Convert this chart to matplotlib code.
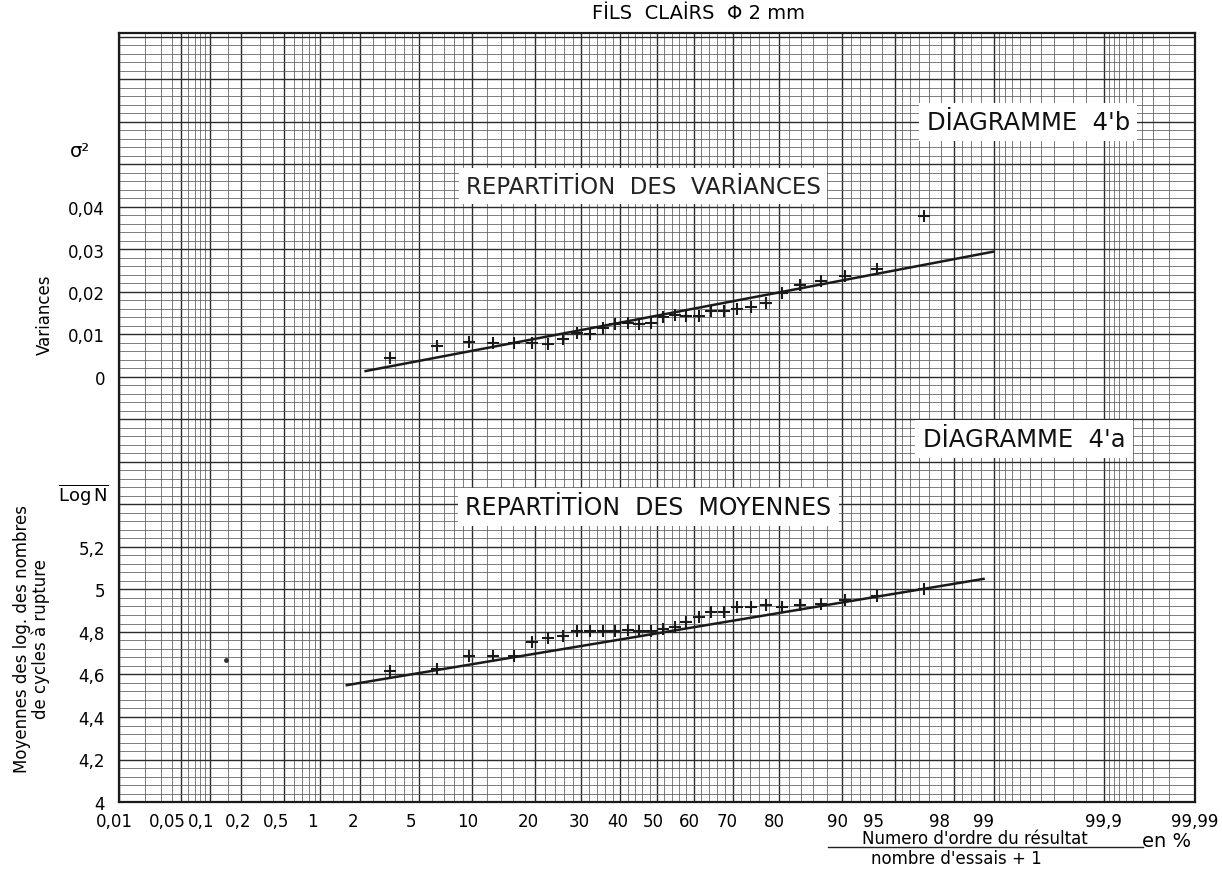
import numpy as np
import matplotlib
matplotlib.use('Agg')
import matplotlib.pyplot as plt
from matplotlib.lines import Line2D
from statistics import NormalDist

# papier gausso-arithmetique : abscisse en % (echelle de probabilite normale)
loi = NormalDist()

rang_pct = [3.23, 6.45, 9.68, 12.90, 16.13, 19.35, 22.58, 25.81, 29.03, 32.26,
            35.48, 38.71, 41.94, 45.16, 48.39, 51.61, 54.84, 58.06, 61.29, 64.52,
            67.74, 70.97, 74.19, 77.42, 80.65, 83.87, 87.10, 90.32, 93.55, 96.77]

variances = [0.0045, 0.0073, 0.0082, 0.0080, 0.0080, 0.0080, 0.0078, 0.0089, 0.0104, 0.0101,
             0.0115, 0.0125, 0.0127, 0.0125, 0.0127, 0.0141, 0.0146, 0.0144, 0.0144, 0.0155,
             0.0155, 0.0160, 0.0165, 0.0174, 0.0198, 0.0216, 0.0226, 0.0238, 0.0254, 0.0379]

moyennes = [4.616, 4.626, 4.687, 4.687, 4.687, 4.753, 4.772, 4.781, 4.805, 4.805,
            4.805, 4.805, 4.809, 4.805, 4.805, 4.814, 4.824, 4.847, 4.871, 4.894,
            4.894, 4.918, 4.918, 4.927, 4.918, 4.927, 4.932, 4.951, 4.969, 5.002]

# droites ajustees
droite_var_x = [2.2, 99.0]
droite_var_y = [0.0014, 0.0295]
droite_moy_x = [1.6, 98.8]
droite_moy_y = [4.55, 5.05]

# point isole (tache) en bas a gauche
tache_x = [0.145]
tache_y = [4.67]

x_ticks = [0.01, 0.05, 0.1, 0.2, 0.5, 1, 2, 5, 10, 20, 30, 40, 50, 60, 70, 80,
           90, 95, 98, 99, 99.9, 99.99]
x_labels = ['0,01', '0,05', '0,1', '0,2', '0,5', '1', '2', '5', '10', '20', '30', '40',
            '50', '60', '70', '80', '90', '95', '98', '99', '99,9', '99,99']
# decalage des etiquettes (en pixels) comme sur le papier imprime
x_decal = [-5, -14, -9, -3, -8, -8, -7, -8, -4, -7, -2, -3, -4, -4, -6, -4,
           -5, -21, -15, -10, -1, 0]

moy_ticks = [4.0, 4.2, 4.4, 4.6, 4.8, 5.0, 5.2]
moy_labels = ['4', '4,2', '4,4', '4,6', '4,8', '5', '5,2']
var_ticks = [0.0, 0.01, 0.02, 0.03, 0.04]
var_labels = ['0', '0,01', '0,02', '0,03', '0,04']


def vers_z(p):
    p = np.clip(np.asarray(p, dtype=float), 1e-7, 100 - 1e-7)
    return np.vectorize(lambda v: loi.inv_cdf(v / 100.0), otypes=[float])(p)


def depuis_z(z):
    z = np.asarray(z, dtype=float)
    return np.vectorize(lambda v: 100.0 * loi.cdf(v), otypes=[float])(z)


plt.rcParams['font.family'] = ['DejaVu Sans']
encre = '#2b2b2b'

fig = plt.figure(figsize=(12.22, 8.70), dpi=100)
ax = fig.add_axes([119 / 1222, 1 - 803 / 870, 1076 / 1222, 769 / 870])
ax.set_xscale('function', functions=(vers_z, depuis_z))
ax.set_xlim(0.01, 99.99)
y_haut = 4 + 0.2 * 769 / 42.5
ax.set_ylim(4, y_haut)

# quadrillage du papier
gauche = [0.02, 0.03, 0.04, 0.06, 0.07, 0.08, 0.09, 0.15, 0.3, 0.4, 0.6, 0.7, 0.8, 0.9,
          1.25, 1.5, 1.75, 2.5, 3, 3.5, 4, 4.5, 6, 7, 8, 9, 12, 14, 16, 18,
          22, 24, 26, 28, 32, 34, 36, 38, 42, 44, 46, 48]
mineurs_x = gauche + [round(100 - g, 3) for g in gauche] + [99.95, 99.8, 99.5]
ax.set_xticks(mineurs_x, minor=True)
ax.set_xticks(x_ticks, labels=[''] * len(x_ticks))
for x, lab, d in zip(x_ticks, x_labels, x_decal):
    ax.annotate(lab, xy=(x, 0), xycoords=('data', 'axes fraction'),
                xytext=(d * 0.72, -7), textcoords='offset points',
                ha='center', va='top', fontsize=12)

grands_y = np.arange(4, y_haut + 1e-6, 0.2)
petits_y = np.arange(4, y_haut + 1e-6, 0.04)
lab_y = []
for v in grands_y:
    lab = ''
    for t, l in zip(moy_ticks, moy_labels):
        if abs(t - v) < 1e-6:
            lab = l
    lab_y.append(lab)
ax.set_yticks(grands_y, labels=lab_y)
ax.set_yticks(petits_y, minor=True)

ax.grid(which='major', color=encre, lw=1.0)
ax.grid(which='minor', color='#5a5a5a', lw=0.55)
ax.set_axisbelow(True)
ax.tick_params(which='both', length=0)
ax.tick_params(axis='y', pad=10, labelsize=12)
for s in ax.spines.values():
    s.set_linewidth(1.6)
    s.set_color('#1a1a1a')

# diagramme 4'a : moyennes
ax.plot(droite_moy_x, droite_moy_y, color='#1a1a1a', lw=1.8, zorder=3)
ax.plot(rang_pct, moyennes, ls='none', marker='+', ms=8, mew=1.5, color='#1a1a1a', zorder=4)
ax.plot(tache_x, tache_y, ls='none', marker='o', ms=2.5, color='#333333', zorder=4)

# diagramme 4'b : variances (meme papier, autre echelle)
ax2 = ax.twinx()
ax2.set_ylim((4 - 6) * 0.05, (y_haut - 6) * 0.05)
ax2.set_yticks(var_ticks, labels=var_labels)
ax2.yaxis.set_ticks_position('left')
ax2.tick_params(length=0, pad=10, labelsize=12)
for s in ax2.spines.values():
    s.set_visible(False)
ax2.plot(droite_var_x, droite_var_y, color='#1a1a1a', lw=1.8, zorder=3)
ax2.plot(rang_pct, variances, ls='none', marker='+', ms=8, mew=1.5, color='#1a1a1a', zorder=4)

boite = dict(boxstyle='square,pad=0.3', fc='white', ec='none')
ax2.text(0.487, 0.801, 'REPARTİTİON  DES  VARİANCES', transform=ax.transAxes,
         ha='center', va='center', fontsize=16.5, color='#222222', bbox=boite, zorder=5)
ax2.text(0.845, 0.884, "DİAGRAMME  4'b", transform=ax.transAxes,
         ha='center', va='center', fontsize=17.5, color='#111111', bbox=boite, zorder=5)
ax2.text(0.841, 0.472, "DİAGRAMME  4'a", transform=ax.transAxes,
         ha='center', va='center', fontsize=17.5, color='#111111', bbox=boite, zorder=5)
ax2.text(0.492, 0.384, 'REPARTİTİON  DES  MOYENNES', transform=ax.transAxes,
         ha='center', va='center', fontsize=17, color='#111111', bbox=boite, zorder=5)

# textes hors cadre
fig.text(0.572, 0.984, 'FİLS  CLAİRS  Φ 2 mm', ha='center', va='center', fontsize=14)
fig.text(0.0655, 0.826, 'σ²', ha='center', va='center', fontsize=14)
fig.text(0.037, 0.638, 'Variances', rotation=90, ha='center', va='center', fontsize=12)
fig.text(0.068, 0.431, r'$\overline{\mathrm{Log\,N}}$', ha='center', va='center', fontsize=13)
fig.text(0.026, 0.265, 'Moyennes des log. des nombres\nde cycles à rupture', rotation=90,
         ha='center', va='center', fontsize=12, linespacing=1.05)

fig.text(975 / 1222, 1 - 839 / 870, "Numero d'ordre du résultat", ha='center', va='center', fontsize=12)
fig.add_artist(Line2D([828 / 1222, 1143 / 1222], [1 - 848 / 870, 1 - 848 / 870], color='#222222', lw=1))
fig.text(1167 / 1222, 1 - 842 / 870, 'en %', ha='center', va='center', fontsize=14)
fig.text(956 / 1222, 1 - 859 / 870, "nombre d'essais + 1", ha='center', va='center', fontsize=12)

fig.savefig('out.png', dpi=100, facecolor='white')
